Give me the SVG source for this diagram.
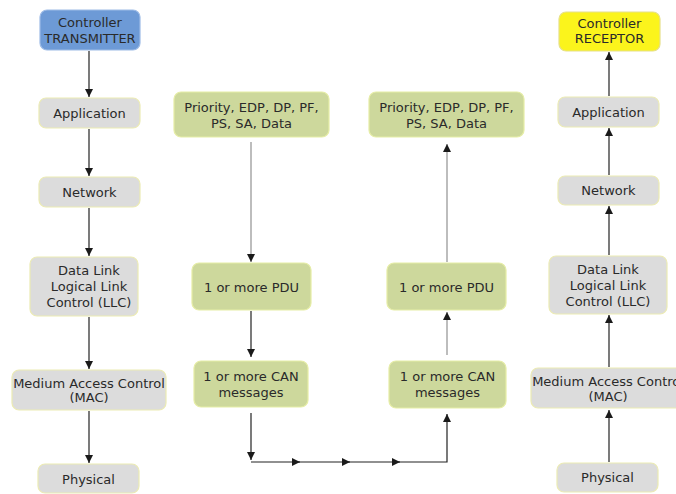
<svg xmlns="http://www.w3.org/2000/svg" width="676" height="494" viewBox="0 0 676 494">
<defs>
<style>
text{font-family:"DejaVu Sans","Liberation Sans",sans-serif;font-size:13px;fill:#2a2a2a;text-anchor:middle;dominant-baseline:central}
.g{fill:#dcdcdc;stroke:#ecebb4;stroke-width:1.2}
.n{fill:#cdd89c;stroke:#e6eda6;stroke-width:1.2}
.b{fill:#6d9ad6;stroke:#9dbbe6;stroke-width:1.2}
.y{fill:#fbf41c;stroke:#e6e08a;stroke-width:1.2}
.k{stroke:#222;stroke-width:1.2;fill:none}
.l{stroke:#9a9a9a;stroke-width:1.3;fill:none}
</style>
<marker id="ah" viewBox="0 0 10 10" refX="10" refY="5" markerWidth="8" markerHeight="10" markerUnits="userSpaceOnUse" orient="auto">
<path d="M0,0 L10,5 L0,10 z" fill="#1a1a1a"/>
</marker>
</defs>

<g id="connectors">
<line class="k" x1="89" y1="51" x2="89" y2="97" marker-end="url(#ah)"/>
<line class="k" x1="89" y1="129" x2="89" y2="176" marker-end="url(#ah)"/>
<line class="k" x1="89" y1="208" x2="89" y2="256" marker-end="url(#ah)"/>
<line class="k" x1="89" y1="317" x2="89" y2="369" marker-end="url(#ah)"/>
<line class="k" x1="89" y1="411" x2="89" y2="463" marker-end="url(#ah)"/>

<line class="l" x1="251" y1="142" x2="251" y2="262" marker-end="url(#ah)"/>
<line class="k" x1="251" y1="311" x2="251" y2="357" marker-end="url(#ah)"/>
<line class="k" x1="251" y1="413" x2="251" y2="460" marker-end="url(#ah)"/>
<path class="k" d="M251,462 H300" marker-end="url(#ah)"/>
<path class="k" d="M298,462 H350" marker-end="url(#ah)"/>
<path class="k" d="M348,462 H400" marker-end="url(#ah)"/>
<path class="k" d="M398,462 H447 V414" marker-end="url(#ah)"/>
<line class="l" x1="447" y1="355" x2="447" y2="312" marker-end="url(#ah)"/>
<line class="l" x1="447" y1="262" x2="447" y2="144" marker-end="url(#ah)"/>

<line class="k" x1="609" y1="462" x2="609" y2="410" marker-end="url(#ah)"/>
<line class="k" x1="609" y1="367" x2="609" y2="315" marker-end="url(#ah)"/>
<line class="k" x1="609" y1="255" x2="609" y2="206" marker-end="url(#ah)"/>
<line class="k" x1="609" y1="175" x2="609" y2="128" marker-end="url(#ah)"/>
<line class="k" x1="609" y1="96" x2="609" y2="52" marker-end="url(#ah)"/>
</g>

<g id="tx-controller"><rect class="b" x="40" y="10" width="100" height="40" rx="7"/><text x="90" y="22">Controller</text><text x="90" y="38">TRANSMITTER</text></g>
<g id="tx-application"><rect class="g" x="39" y="98" width="101" height="30" rx="7"/><text x="89.5" y="113">Application</text></g>
<g id="tx-network"><rect class="g" x="39" y="177" width="101" height="30" rx="7"/><text x="89.5" y="192">Network</text></g>
<g id="tx-datalink"><rect class="g" x="30" y="257" width="108" height="59" rx="7"/><text x="89" y="270">Data Link</text><text x="89" y="286">Logical Link</text><text x="89" y="302">Control (LLC)</text></g>
<g id="tx-mac"><rect class="g" x="12" y="370" width="154" height="40" rx="7"/><text x="89" y="383">Medium Access Control</text><text x="89" y="397">(MAC)</text></g>
<g id="tx-physical"><rect class="g" x="38" y="464" width="101" height="29" rx="7"/><text x="88.5" y="479">Physical</text></g>

<g id="tx-fields"><rect class="n" x="174" y="92" width="155" height="45" rx="7"/><text x="251.5" y="107">Priority, EDP, DP, PF,</text><text x="251.5" y="123">PS, SA, Data</text></g>
<g id="tx-pdu"><rect class="n" x="192" y="263" width="119" height="47" rx="7"/><text x="251.5" y="287">1 or more PDU</text></g>
<g id="tx-can"><rect class="n" x="194" y="361" width="114" height="46" rx="7"/><text x="251" y="376">1 or more CAN</text><text x="251" y="392">messages</text></g>

<g id="rx-fields"><rect class="n" x="369" y="92" width="155" height="45" rx="7"/><text x="446.5" y="107">Priority, EDP, DP, PF,</text><text x="446.5" y="123">PS, SA, Data</text></g>
<g id="rx-pdu"><rect class="n" x="387" y="263" width="119" height="47" rx="7"/><text x="446.5" y="287">1 or more PDU</text></g>
<g id="rx-can"><rect class="n" x="389" y="361" width="117" height="47" rx="7"/><text x="447.5" y="376">1 or more CAN</text><text x="447.5" y="392">messages</text></g>

<g id="rx-controller"><rect class="y" x="559" y="12" width="101" height="39" rx="7"/><text x="609.5" y="23">Controller</text><text x="609.5" y="38">RECEPTOR</text></g>
<g id="rx-application"><rect class="g" x="558" y="97" width="101" height="30" rx="7"/><text x="608.5" y="112">Application</text></g>
<g id="rx-network"><rect class="g" x="558" y="176" width="101" height="29" rx="7"/><text x="608.5" y="190">Network</text></g>
<g id="rx-datalink"><rect class="g" x="549" y="256" width="118" height="58" rx="7"/><text x="608" y="269">Data Link</text><text x="608" y="285">Logical Link</text><text x="608" y="301">Control (LLC)</text></g>
<g id="rx-mac"><rect class="g" x="531" y="368" width="154" height="40" rx="7"/><text x="608" y="381">Medium Access Control</text><text x="608" y="396">(MAC)</text></g>
<g id="rx-physical"><rect class="g" x="557" y="463" width="101" height="29" rx="7"/><text x="607.5" y="477">Physical</text></g>
</svg>
